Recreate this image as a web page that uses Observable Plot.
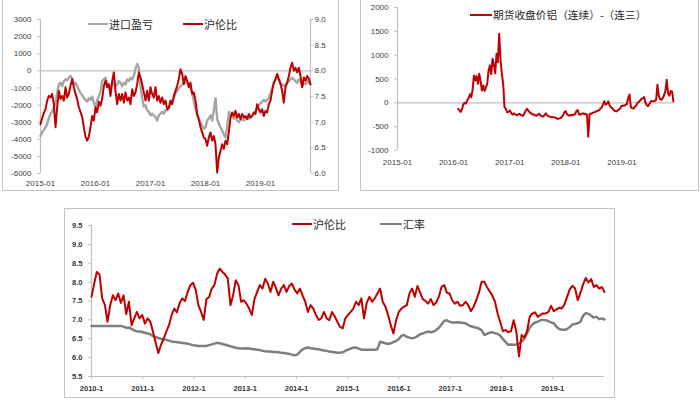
<!DOCTYPE html>
<html><head><meta charset="utf-8">
<script src="https://cdn.jsdelivr.net/npm/d3@7"></script>
<script src="https://cdn.jsdelivr.net/npm/@observablehq/plot@0.6"></script>
<style>
html,body{margin:0;padding:0;background:#fff}
body{width:700px;height:401px;overflow:hidden;position:relative;font-family:"Liberation Sans",Arial,sans-serif}
.frame{position:absolute;border:1.5px solid #c4c4c4;box-sizing:border-box}
.chart{position:absolute}
.legend{position:absolute;height:16px;line-height:16px;font-family:"Noto Sans CJK SC",sans-serif;font-size:11px;color:#262626;white-space:nowrap;display:flex;align-items:center}
.sw{display:inline-block;height:2px;margin-right:1px}
#c3 text{font-weight:bold}
</style></head><body>
<div class="frame" style="left:2px;top:-2px;width:337px;height:193px"></div>
<div class="frame" style="left:360px;top:-2px;width:339px;height:193px"></div>
<div class="frame" style="left:64px;top:208px;width:551px;height:190px"></div>
<div id="c1" class="chart" style="left:0px;top:0px"></div>
<div id="c2" class="chart" style="left:360px;top:0px"></div>
<div id="c3" class="chart" style="left:64px;top:208px"></div>
<div class="legend" style="left:88px;top:16px"><span class="sw" style="width:20px;background:#a6a6a6"></span>进口盈亏</div>
<div class="legend" style="left:183px;top:16px"><span class="sw" style="width:20px;background:#c00000"></span>沪伦比</div>
<div class="legend" style="left:470px;top:7px;font-size:10.7px"><span class="sw" style="width:22px;background:#c00000"></span>期货收盘价铝（连续）-（连三）</div>
<div class="legend" style="left:292px;top:216px"><span class="sw" style="width:20px;background:#c00000"></span>沪伦比</div>
<div class="legend" style="left:380px;top:216px"><span class="sw" style="width:22px;background:#7f7f7f"></span>汇率</div>
<script>
// ---------- Chart 1: 进口盈亏 (left axis) & 沪伦比 (right axis), 2015-01 .. 2019-11 ----------
const ch1Start = 2015.0;
const ch1Step = 1 / 33; // ~11 days between readings
const ch1Ticks = [2015, 2016, 2017, 2018, 2019];
const ch1LeftTicks = [-6000, -5000, -4000, -3000, -2000, -1000, 0, 1000, 2000, 3000];
const ch1RightTicks = [6.0, 6.5, 7.0, 7.5, 8.0, 8.5, 9.0];
const ratio1 = [
6.96,7.08,7.18,7.25,7.42,7.51,7.48,7.55,7.35,6.90,
7.29,7.61,7.45,7.51,7.42,7.68,7.48,7.55,7.71,7.84,
7.68,7.55,7.45,7.29,7.20,7.10,6.90,6.72,6.64,6.72,
6.90,7.12,7.03,7.29,7.19,7.40,7.32,7.45,7.70,7.81,
7.68,7.74,7.51,7.80,7.97,7.60,7.35,7.55,7.42,7.55,
7.38,7.58,7.42,7.48,7.35,7.64,7.51,7.58,7.74,7.97,
7.87,7.74,7.58,7.42,7.61,7.42,7.68,7.55,7.48,7.68,
7.42,7.51,7.38,7.48,7.35,7.42,7.25,7.29,7.42,7.35,
7.51,7.61,7.71,7.84,8.03,7.94,7.74,7.90,7.81,7.68,
7.77,7.55,7.58,7.42,7.16,7.05,6.90,6.80,6.70,6.67,
6.54,6.70,6.80,6.64,6.73,6.57,6.02,6.31,6.44,6.57,
6.48,6.64,6.57,6.80,7.09,7.19,7.12,7.22,7.09,7.16,
7.06,7.16,7.09,7.12,7.06,7.16,7.09,7.12,7.19,7.16,
7.35,7.25,7.19,7.25,7.12,7.22,7.19,7.35,7.42,7.61,
7.77,7.84,7.94,7.84,7.74,7.61,7.38,7.68,7.77,7.90,
8.06,8.16,8.00,8.06,7.97,8.06,7.90,7.68,7.87,7.81,
7.90,7.84,7.74];
const importPL = [
-3800,-3600,-3450,-3300,-3100,-2800,-2500,-2400,-2100,-1900,
-1300,-800,-700,-900,-600,-500,-550,-400,-300,-450,
-800,-700,-900,-1100,-1300,-1400,-1600,-1700,-1800,-1600,
-1700,-1500,-1900,-2100,-1700,-1500,-1200,-600,-500,-400,
-700,-900,-1000,-800,-700,-900,-800,-600,-700,-900,
-700,-800,-500,-600,-400,-500,-300,100,400,200,
-900,-1600,-2100,-2000,-2300,-2400,-2600,-2500,-2600,-2700,
-2900,-2600,-2500,-2400,-2500,-2300,-2300,-2200,-2000,-1800,
-1600,-1300,-1200,-1000,-900,-800,-700,-600,-700,-800,
-1000,-1300,-1800,-2200,-2600,-2800,-3000,-3200,-3400,-3300,
-2900,-2800,-2600,-2900,-2300,-1600,-2800,-3100,-3300,-3500,
-3700,-3900,-3300,-2400,-2600,-2700,-2800,-2700,-2900,-3000,
-2900,-2800,-2900,-2800,-2700,-2800,-2700,-2600,-2500,-2400,
-2100,-2000,-1900,-1800,-1700,-1800,-1700,-1600,-1300,-1000,
-700,-500,-400,-500,-700,-800,-900,-800,-700,-600,
-500,-400,-500,-600,-700,-500,-600,-900,-700,-800,
-600,-700,-800];

// ---------- Chart 2: 期货收盘价铝（连续）-（连三）, 2016-01 .. 2019-11 ----------
const ch2Start = 2016.078;
const ch2Step = 4 / 168.75; // ~8.7 days between readings
const ch2Ticks = [2015, 2016, 2017, 2018, 2019];
const ch2YTicks = [-1000, -500, 0, 500, 1000, 1500, 2000];
const spread = [
-126,-150,-190,-140,-30,0,-20,60,100,180,
120,280,575,470,560,400,610,450,260,365,
250,330,400,680,785,600,925,800,620,1030,
850,1450,900,610,400,-90,-130,-200,-190,-160,
-210,-250,-220,-240,-260,-250,-230,-250,-260,-270,
-220,-160,-126,-170,-200,-220,-240,-250,-260,-270,
-250,-230,-260,-280,-290,-260,-220,-260,-280,-290,
-300,-300,-300,-310,-320,-337,-330,-320,-300,-260,
-200,-175,-240,-260,-270,-250,-260,-250,-240,-180,
-150,-240,-250,-230,-220,-240,-230,-250,-710,-230,
-230,-215,-200,-195,-175,-165,-160,-126,-100,-40,
35,-40,-20,30,-50,-90,-110,-150,-170,-180,
-160,-140,-120,-60,-60,-60,-40,-30,100,175,
-90,-110,-120,-80,-60,0,20,50,80,100,
120,0,-50,-70,-20,30,40,35,40,60,
380,150,80,60,100,160,250,484,200,150,
250,240,30];

// ---------- Chart 3: 沪伦比 & 汇率, 2010-1 .. 2019-12 ----------
const ch3Start = 2010.0;
const ch3Step = 8 / 153.4; // ~19 days between readings
const ch3Ticks = [2010, 2011, 2012, 2013, 2014, 2015, 2016, 2017, 2018, 2019];
const ch3YTicks = [5.5, 6.0, 6.5, 7.0, 7.5, 8.0, 8.5, 9.0, 9.5];
const ratio3 = [
7.61,7.96,8.27,8.20,7.57,7.40,6.95,7.39,7.65,7.52,
7.70,7.45,7.65,7.15,7.48,6.86,7.04,7.21,7.04,7.13,
6.90,7.04,6.95,6.69,6.40,6.12,6.34,6.50,6.69,6.86,
7.13,7.30,7.20,7.45,7.57,7.50,7.74,7.92,7.98,7.80,
7.39,7.21,7.00,7.55,7.60,7.83,7.92,8.22,8.36,8.27,
8.20,8.10,7.39,7.65,8.05,7.92,7.48,7.52,7.43,7.30,
7.13,7.55,7.74,7.92,7.83,8.09,7.96,7.74,8.01,7.85,
7.65,7.83,7.92,7.74,7.90,7.96,7.80,7.70,7.83,7.65,
7.48,7.21,7.39,7.30,7.13,7.00,7.04,7.21,7.04,6.99,
7.21,7.10,6.95,6.82,6.77,7.04,7.13,7.21,7.30,7.48,
7.39,7.57,7.04,7.45,7.61,7.48,7.57,7.70,7.83,7.48,
7.35,7.13,6.86,6.64,6.99,7.21,7.30,7.35,7.39,7.70,
7.83,7.61,7.90,7.72,7.55,7.50,7.43,7.55,7.39,7.46,
7.61,7.87,7.92,7.72,7.70,7.52,7.43,7.48,7.37,7.39,
7.48,7.39,7.23,7.35,7.52,7.72,8.01,8.01,7.87,7.76,
7.65,7.48,7.17,6.93,6.70,6.73,6.67,6.70,6.99,6.69,
6.03,6.60,6.53,6.70,7.08,7.17,7.20,7.08,7.13,7.17,
7.17,7.21,7.37,7.23,7.28,7.32,7.30,7.41,7.61,7.81,
7.90,7.83,7.52,7.72,7.94,8.11,7.99,8.08,7.87,7.92,
7.83,7.87,7.74];
const fxRate = [
6.84,6.84,6.84,6.84,6.84,6.84,6.84,6.84,6.84,6.84,
6.84,6.84,6.82,6.79,6.80,6.76,6.72,6.70,6.69,6.68,
6.66,6.64,6.62,6.57,6.55,6.52,6.50,6.49,6.47,6.45,
6.43,6.42,6.41,6.40,6.39,6.38,6.37,6.35,6.33,6.32,
6.31,6.31,6.31,6.31,6.33,6.35,6.37,6.39,6.38,6.36,
6.34,6.32,6.30,6.28,6.26,6.25,6.24,6.24,6.25,6.24,
6.23,6.22,6.21,6.20,6.18,6.17,6.16,6.16,6.15,6.15,
6.14,6.13,6.12,6.11,6.10,6.08,6.06,6.08,6.15,6.22,
6.25,6.27,6.25,6.24,6.23,6.22,6.20,6.19,6.18,6.16,
6.15,6.14,6.13,6.13,6.14,6.18,6.21,6.24,6.26,6.27,
6.24,6.21,6.21,6.21,6.21,6.21,6.21,6.22,6.42,6.40,
6.38,6.36,6.38,6.41,6.44,6.49,6.58,6.60,6.55,6.53,
6.51,6.53,6.57,6.62,6.64,6.67,6.69,6.67,6.69,6.73,
6.79,6.88,6.97,6.99,6.95,6.93,6.93,6.94,6.93,6.92,
6.91,6.86,6.83,6.81,6.79,6.77,6.73,6.60,6.63,6.66,
6.67,6.65,6.63,6.58,6.49,6.41,6.34,6.35,6.34,6.35,
6.38,6.42,6.51,6.64,6.79,6.88,6.93,6.95,6.99,7.00,
6.99,6.97,6.93,6.91,6.82,6.76,6.74,6.74,6.76,6.81,
6.88,6.89,6.91,6.95,7.11,7.18,7.16,7.11,7.06,7.08,
7.02,7.04,7.01];

const series = (vals, start, step) => vals.map((v, i) => ({t: start + i * step, v}));
const axisColor = "#bfbfbf", textColor = "#404040";
const baseStyle = {fontFamily: "'Liberation Sans', Arial, sans-serif", fontSize: "8px", background: "transparent", overflow: "visible"};

// Chart 1
const t1a = series(importPL, ch1Start, ch1Step);
const t1b = series(ratio1, ch1Start, ch1Step);
const x1End = ch1Start + (ratio1.length - 1) * ch1Step;
const p1 = Plot.plot({
  width: 338, height: 192, marginLeft: 40, marginRight: 28, marginTop: 19, marginBottom: 19,
  style: baseStyle,
  x: {domain: [2015, x1End]},
  y: {domain: [-6000, 3000]},
  marks: [
    Plot.ruleY([0], {stroke: axisColor, strokeWidth: 1.2}),
    Plot.ruleX([2015, x1End], {stroke: axisColor, strokeWidth: 1.2}),
    Plot.axisY({anchor: "left", ticks: ch1LeftTicks, tickSize: 3, tickPadding: 6, tickFormat: d => String(d), label: null, stroke: axisColor, fill: textColor}),
    Plot.axisY({anchor: "right", ticks: ch1RightTicks.map(r => (r - 8) * 3000), tickSize: 2, tickPadding: 2, tickFormat: d => (8 + d / 3000).toFixed(1), label: null, stroke: axisColor, fill: textColor}),
    Plot.axisX({anchor: "bottom", ticks: ch1Ticks, tickSize: 0, tickPadding: 7, tickFormat: d => d + "-01", label: null, fill: textColor}),
    Plot.line(t1a, {x: "t", y: "v", stroke: "#a6a6a6", strokeWidth: 2.4}),
    Plot.line(t1b, {x: "t", y: d => (d.v - 8) * 3000, stroke: "#c00000", strokeWidth: 2})
  ]
});
document.getElementById("c1").append(p1);

// Chart 2
const t2 = series(spread, ch2Start, ch2Step);
const p2 = Plot.plot({
  width: 338, height: 192, marginLeft: 37, marginRight: 25, marginTop: 7, marginBottom: 42,
  style: baseStyle,
  x: {domain: [2015, 2019.92]},
  y: {domain: [-1000, 2000]},
  marks: [
    Plot.ruleY([0], {stroke: axisColor, strokeWidth: 1.2}),
    Plot.ruleX([2015], {stroke: axisColor, strokeWidth: 1.2}),
    Plot.axisY({anchor: "left", ticks: ch2YTicks, tickSize: 3, tickPadding: 6, tickFormat: d => String(d), label: null, stroke: axisColor, fill: textColor}),
    Plot.axisX({anchor: "bottom", ticks: ch2Ticks, tickSize: 0, tickPadding: 9, tickFormat: d => d + "-01", label: null, fill: textColor}),
    Plot.line(t2, {x: "t", y: "v", stroke: "#c00000", strokeWidth: 2})
  ]
});
document.getElementById("c2").append(p2);

// Chart 3
const t3a = series(ratio3, ch3Start, ch3Step);
const t3b = series(fxRate, ch3Start, ch3Step);
const x3End = ch3Start + (ratio3.length - 1) * ch3Step;
const p3 = Plot.plot({
  width: 550, height: 189, marginLeft: 27, marginRight: 10, marginTop: 17, marginBottom: 21,
  style: {...baseStyle, fontSize: "7.5px"},
  x: {domain: [2010, x3End]},
  y: {domain: [5.5, 9.5]},
  marks: [
    Plot.ruleY([5.5], {stroke: axisColor, strokeWidth: 1.2}),
    Plot.ruleX([2010], {stroke: axisColor, strokeWidth: 1.2}),
    Plot.axisY({anchor: "left", ticks: ch3YTicks, tickSize: 3, tickPadding: 6, tickFormat: d => d.toFixed(1), label: null, stroke: axisColor, fill: "#333"}),
    Plot.axisX({anchor: "bottom", ticks: ch3Ticks, tickSize: 3, tickPadding: 6, tickFormat: d => d + "-1", label: null, stroke: axisColor, fill: "#333"}),
    Plot.line(t3b, {x: "t", y: "v", stroke: "#7f7f7f", strokeWidth: 2.5}),
    Plot.line(t3a, {x: "t", y: "v", stroke: "#c00000", strokeWidth: 2})
  ]
});
document.getElementById("c3").append(p3);
</script>
</body></html>
